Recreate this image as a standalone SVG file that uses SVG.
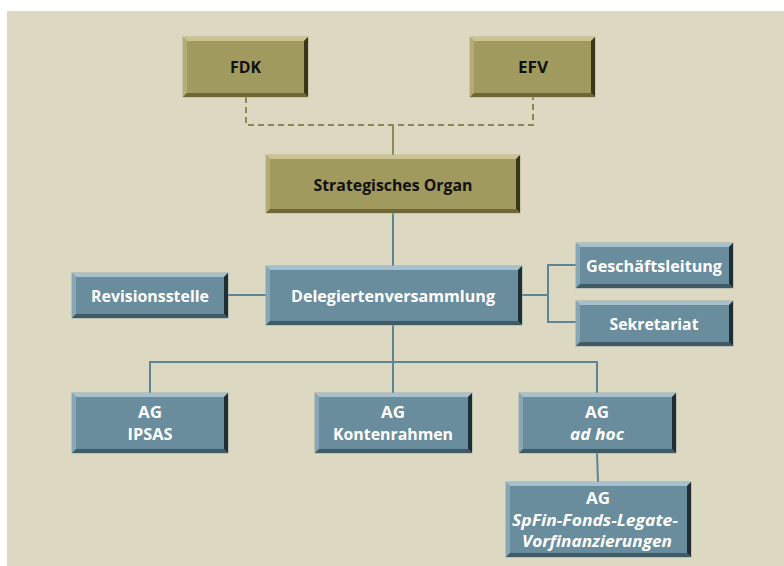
<svg xmlns="http://www.w3.org/2000/svg" width="784" height="566" viewBox="0 0 784 566">
<style>
.bg{fill:#DDD8C2}
.ol .f{fill:#A09A5E;stroke:#B9B28E;stroke-width:1}
.ol .t{fill:#CBC492}
.ol .l{fill:#B3AC74}
.ol .r{fill:#3A3619}
.ol .b{fill:#6E6838}
.bl .f{fill:#6A8D9D;stroke:#9AAAA8;stroke-width:1}
.bl .t{fill:#A6C1CD}
.bl .l{fill:#88A7B5}
.bl .r{fill:#1F2E35}
.bl .b{fill:#405A66}
text{font-family:"Open Sans","Liberation Sans",sans-serif;font-weight:bold;font-size:16px;text-anchor:middle}
.ol text{fill:#111111}
.bl text{fill:#FFFFFF}
.it{font-style:italic}
.cb{fill:none;stroke:#5E8596;stroke-width:2}
.co{fill:none;stroke:#8E8856;stroke-width:2}
.cd{fill:none;stroke:#8E8856;stroke-width:2;stroke-dasharray:6 4}
</style>
<rect class="bg" x="7" y="11" width="777" height="555"/>
<g id="connectors">
<path class="cd" d="M246,97 V125 H533 V97"/>
<path class="co" d="M393,125 V155"/>
<path class="cb" d="M393,213 V266"/>
<path class="cb" d="M228,295 H266"/>
<path class="cb" d="M522,295 H548 M548,265 V322 M547,265 H576 M547,322 H576"/>
<path class="cb" d="M393,325 V393"/>
<path class="cb" d="M150,393 V362 H597 V393"/>
<path class="cb" d="M597,453 L598,482"/>
</g>
<g id="fdk" class="ol">
<rect class="f" x="183" y="37" width="125" height="60"/>
<polygon class="t" points="183,37 308,37 304,41 187,41"/>
<polygon class="l" points="183,37 187,41 187,93 183,97"/>
<polygon class="r" points="308,37 308,97 304,93 304,41"/>
<polygon class="b" points="183,97 308,97 304,93 187,93"/>
<text x="245.5" y="73" textLength="31" lengthAdjust="spacingAndGlyphs">FDK</text>
</g>
<g id="efv" class="ol">
<rect class="f" x="470" y="37" width="125" height="60"/>
<polygon class="t" points="470,37 595,37 591,41 474,41"/>
<polygon class="l" points="470,37 474,41 474,93 470,97"/>
<polygon class="r" points="595,37 595,97 591,93 591,41"/>
<polygon class="b" points="470,97 595,97 591,93 474,93"/>
<text x="533" y="73" textLength="30" lengthAdjust="spacingAndGlyphs">EFV</text>
</g>
<g id="strategisches-organ" class="ol">
<rect class="f" x="266" y="155" width="254" height="58"/>
<polygon class="t" points="266,155 520,155 516,159 270,159"/>
<polygon class="l" points="266,155 270,159 270,209 266,213"/>
<polygon class="r" points="520,155 520,213 516,209 516,159"/>
<polygon class="b" points="266,213 520,213 516,209 270,209"/>
<text x="393" y="191" textLength="159" lengthAdjust="spacingAndGlyphs">Strategisches Organ</text>
</g>
<g id="revisionsstelle" class="bl">
<rect class="f" x="72" y="273" width="156" height="45"/>
<polygon class="t" points="72,273 228,273 224,277 76,277"/>
<polygon class="l" points="72,273 76,277 76,314 72,318"/>
<polygon class="r" points="228,273 228,318 224,314 224,277"/>
<polygon class="b" points="72,318 228,318 224,314 76,314"/>
<text x="150" y="302" textLength="118" lengthAdjust="spacingAndGlyphs">Revisionsstelle</text>
</g>
<g id="delegiertenversammlung" class="bl">
<rect class="f" x="266" y="266" width="256" height="59"/>
<polygon class="t" points="266,266 522,266 518,270 270,270"/>
<polygon class="l" points="266,266 270,270 270,321 266,325"/>
<polygon class="r" points="522,266 522,325 518,321 518,270"/>
<polygon class="b" points="266,325 522,325 518,321 270,321"/>
<text x="393" y="302" textLength="204" lengthAdjust="spacingAndGlyphs">Delegiertenversammlung</text>
</g>
<g id="geschaeftsleitung" class="bl">
<rect class="f" x="576" y="243" width="157" height="45"/>
<polygon class="t" points="576,243 733,243 729,247 580,247"/>
<polygon class="l" points="576,243 580,247 580,284 576,288"/>
<polygon class="r" points="733,243 733,288 729,284 729,247"/>
<polygon class="b" points="576,288 733,288 729,284 580,284"/>
<text x="654" y="272" textLength="136" lengthAdjust="spacingAndGlyphs">Geschäftsleitung</text>
</g>
<g id="sekretariat" class="bl">
<rect class="f" x="576" y="301" width="157" height="45"/>
<polygon class="t" points="576,301 733,301 729,305 580,305"/>
<polygon class="l" points="576,301 580,305 580,342 576,346"/>
<polygon class="r" points="733,301 733,346 729,342 729,305"/>
<polygon class="b" points="576,346 733,346 729,342 580,342"/>
<text x="654" y="330" textLength="89" lengthAdjust="spacingAndGlyphs">Sekretariat</text>
</g>
<g id="ag-ipsas" class="bl">
<rect class="f" x="72" y="393" width="156" height="60"/>
<polygon class="t" points="72,393 228,393 224,397 76,397"/>
<polygon class="l" points="72,393 76,397 76,449 72,453"/>
<polygon class="r" points="228,393 228,453 224,449 224,397"/>
<polygon class="b" points="72,453 228,453 224,449 76,449"/>
<text x="150" y="418" textLength="24" lengthAdjust="spacingAndGlyphs">AG</text>
<text x="150" y="440" textLength="45" lengthAdjust="spacingAndGlyphs">IPSAS</text>
</g>
<g id="ag-kontenrahmen" class="bl">
<rect class="f" x="315" y="393" width="157" height="60"/>
<polygon class="t" points="315,393 472,393 468,397 319,397"/>
<polygon class="l" points="315,393 319,397 319,449 315,453"/>
<polygon class="r" points="472,393 472,453 468,449 468,397"/>
<polygon class="b" points="315,453 472,453 468,449 319,449"/>
<text x="393" y="418" textLength="24" lengthAdjust="spacingAndGlyphs">AG</text>
<text x="393" y="440" textLength="120" lengthAdjust="spacingAndGlyphs">Kontenrahmen</text>
</g>
<g id="ag-ad-hoc" class="bl">
<rect class="f" x="519" y="393" width="157" height="60"/>
<polygon class="t" points="519,393 676,393 672,397 523,397"/>
<polygon class="l" points="519,393 523,397 523,449 519,453"/>
<polygon class="r" points="676,393 676,453 672,449 672,397"/>
<polygon class="b" points="519,453 676,453 672,449 523,449"/>
<text x="597" y="418" textLength="24" lengthAdjust="spacingAndGlyphs">AG</text>
<text class="it" x="597" y="440" textLength="54" lengthAdjust="spacingAndGlyphs">ad hoc</text>
</g>
<g id="ag-spfin" class="bl">
<rect class="f" x="506" y="482" width="185" height="75"/>
<polygon class="t" points="506,482 691,482 687,486 510,486"/>
<polygon class="l" points="506,482 510,486 510,553 506,557"/>
<polygon class="r" points="691,482 691,557 687,553 687,486"/>
<polygon class="b" points="506,557 691,557 687,553 510,553"/>
<text x="598" y="504" textLength="24" lengthAdjust="spacingAndGlyphs">AG</text>
<text class="it" x="595" y="526" textLength="166" lengthAdjust="spacingAndGlyphs">SpFin-Fonds-Legate-</text>
<text class="it" x="597" y="547" textLength="150" lengthAdjust="spacingAndGlyphs">Vorfinanzierungen</text>
</g>
</svg>
